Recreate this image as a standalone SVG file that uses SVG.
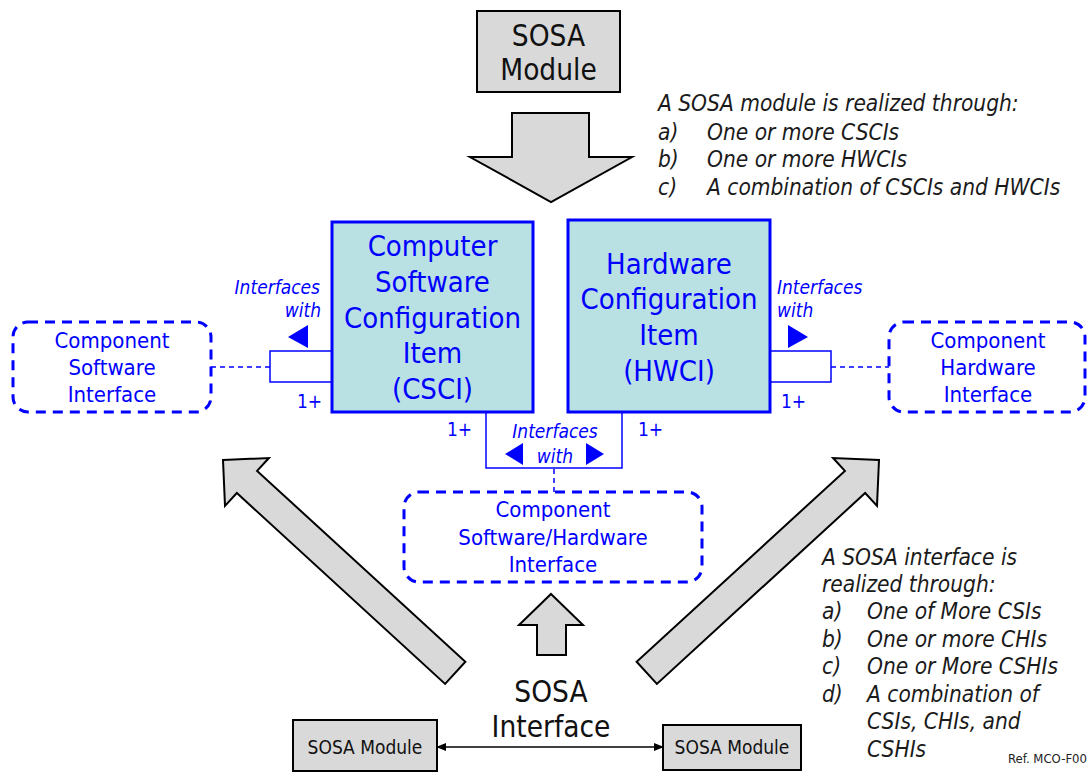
<svg xmlns="http://www.w3.org/2000/svg" width="1087" height="772" viewBox="0 0 1087 772">
  <style>
    text { font-family: "DejaVu Sans Condensed", "DejaVu Sans", sans-serif; font-stretch: condensed; }
    .gray { fill: #d9d9d9; stroke: #000; stroke-width: 2; }
    .ci { fill: #b9e0e3; stroke: #0000ff; stroke-width: 3; }
    .ci-t { font-size: 29px; fill: #0000ff; text-anchor: middle; }
    .mod-t { font-size: 29.5px; fill: #111; text-anchor: middle; }
    .note { font-size: 22.5px; font-style: italic; fill: #1a1a1a; }
    .iface { fill: #fff; stroke: #0000ff; stroke-width: 3; stroke-dasharray: 10 7; }
    .iface-t { font-size: 22px; fill: #0000ff; text-anchor: middle; }
    .lbl { font-size: 19px; font-style: italic; fill: #0000ff; }
    .mult { font-size: 19px; fill: #0000ff; }
    .stub { fill: #fff; stroke: #0000ff; stroke-width: 1.5; }
    .link { fill: none; stroke: #0000ff; stroke-width: 1.5; }
    .dash { fill: none; stroke: #0000ff; stroke-width: 1.5; stroke-dasharray: 5 4; }
    .tri { fill: #0000ff; }
    .small { font-size: 19px; fill: #111; text-anchor: middle; }
  </style>
  <defs>
    <marker id="ah" viewBox="0 0 10 10" refX="9" refY="5" markerWidth="7" markerHeight="7" orient="auto-start-reverse">
      <path d="M0,1 L10,5 L0,9 Z" fill="#000"/>
    </marker>
    <!-- block arrow pointing up, tip at origin -->
    <polygon id="bigArrow" points="0,0 32.5,32.5 15,32.5 15,315 -15,315 -15,32.5 -32.5,32.5"/>
  </defs>

  <!-- top SOSA module -->
  <g id="sosa-module-top">
    <rect class="gray" x="477" y="11" width="143" height="81"/>
    <text class="mod-t" x="548.5" y="46">SOSA</text>
    <text class="mod-t" x="548.5" y="80">Module</text>
  </g>

  <g id="arrow-down">
    <polygon class="gray" points="512,113 589,113 589,157 632,157 551,202 470,157 512,157"/>
  </g>

  <g id="note-module">
    <text class="note" x="658" y="111">A SOSA module is realized through:</text>
    <text class="note" x="658" y="140">a)</text><text class="note" x="707" y="140">One or more CSCIs</text>
    <text class="note" x="658" y="167">b)</text><text class="note" x="707" y="167">One or more HWCIs</text>
    <text class="note" x="658" y="195">c)</text><text class="note" x="707" y="195">A combination of CSCIs and HWCIs</text>
  </g>

  <!-- connectors -->
  <g id="connectors">
    <line class="dash" x1="211" y1="367" x2="270" y2="367"/>
    <line class="dash" x1="831" y1="367" x2="889" y2="367"/>
    <polyline class="link" points="486,412 486,468 622,468 622,412"/>
    <line class="dash" x1="554" y1="469" x2="554" y2="492" stroke-dasharray="4 3"/>
    <line x1="437" y1="747" x2="663" y2="747" stroke="#000" stroke-width="1.5" marker-start="url(#ah)" marker-end="url(#ah)"/>
  </g>

  <!-- CSCI -->
  <g id="csci">
    <rect class="stub" x="270" y="351" width="62" height="31"/>
    <rect class="ci" x="332" y="222" width="201" height="190"/>
    <text class="ci-t" x="432.5" y="256">Computer</text>
    <text class="ci-t" x="432.5" y="292">Software</text>
    <text class="ci-t" x="432.5" y="328">Configuration</text>
    <text class="ci-t" x="432.5" y="363">Item</text>
    <text class="ci-t" x="432.5" y="399">(CSCI)</text>
    <text class="lbl" x="320" y="294" text-anchor="end">Interfaces</text>
    <text class="lbl" x="321" y="317" text-anchor="end">with</text>
    <polygon class="tri" points="288,337 308,325 308,348"/>
    <text class="mult" x="297" y="408">1+</text>
    <text class="mult" x="447" y="436">1+</text>
  </g>

  <!-- HWCI -->
  <g id="hwci">
    <rect class="stub" x="770" y="351" width="61" height="31"/>
    <rect class="ci" x="568" y="220" width="202" height="192"/>
    <text class="ci-t" x="669" y="274">Hardware</text>
    <text class="ci-t" x="669" y="309">Configuration</text>
    <text class="ci-t" x="669" y="345">Item</text>
    <text class="ci-t" x="669" y="381">(HWCI)</text>
    <text class="lbl" x="777" y="294">Interfaces</text>
    <text class="lbl" x="777" y="317">with</text>
    <polygon class="tri" points="808,337 788,325 788,348"/>
    <text class="mult" x="781" y="408">1+</text>
    <text class="mult" x="638" y="436">1+</text>
  </g>

  <!-- CSCI/HWCI shared interface label -->
  <g id="shared-interface-label">
    <text class="lbl" x="555" y="438" text-anchor="middle">Interfaces</text>
    <text class="lbl" x="555" y="463" text-anchor="middle">with</text>
    <polygon class="tri" points="505,454 523,443 523,465"/>
    <polygon class="tri" points="604,454 586,443 586,465"/>
  </g>

  <!-- component interfaces -->
  <g id="component-software-interface">
    <rect class="iface" x="13" y="322" width="198" height="90" rx="15"/>
    <text class="iface-t" x="112" y="348">Component</text>
    <text class="iface-t" x="112" y="375">Software</text>
    <text class="iface-t" x="112" y="402">Interface</text>
  </g>

  <g id="component-hardware-interface">
    <rect class="iface" x="889" y="322" width="196" height="90" rx="15"/>
    <text class="iface-t" x="988" y="348">Component</text>
    <text class="iface-t" x="988" y="375">Hardware</text>
    <text class="iface-t" x="988" y="402">Interface</text>
  </g>

  <g id="component-sw-hw-interface">
    <rect class="iface" x="404" y="492" width="298" height="90" rx="15"/>
    <text class="iface-t" x="553" y="517">Component</text>
    <text class="iface-t" x="553" y="545">Software/Hardware</text>
    <text class="iface-t" x="553" y="572">Interface</text>
  </g>

  <!-- realization arrows -->
  <g id="arrows-up">
    <use href="#bigArrow" class="gray" transform="translate(223,460) rotate(-47.5)"/>
    <use href="#bigArrow" class="gray" transform="translate(879,460) rotate(47.5)"/>
    <polygon class="gray" points="551,594 583,625 566,625 566,655 537,655 537,625 519,625"/>
  </g>

  <g id="sosa-interface">
    <text class="mod-t" x="551" y="702">SOSA</text>
    <text class="mod-t" x="551" y="737">Interface</text>
  </g>

  <g id="sosa-module-left">
    <rect class="gray" x="293" y="720" width="144" height="51"/>
    <text class="small" x="365" y="754">SOSA Module</text>
  </g>

  <g id="sosa-module-right">
    <rect class="gray" x="663" y="725" width="138" height="45"/>
    <text class="small" x="732" y="754">SOSA Module</text>
  </g>

  <g id="note-interface">
    <text class="note" x="822" y="565">A SOSA interface is</text>
    <text class="note" x="822" y="592">realized through:</text>
    <text class="note" x="822" y="619">a)</text><text class="note" x="867" y="619">One of More CSIs</text>
    <text class="note" x="822" y="647">b)</text><text class="note" x="867" y="647">One or more CHIs</text>
    <text class="note" x="822" y="674">c)</text><text class="note" x="867" y="674">One or More CSHIs</text>
    <text class="note" x="822" y="702">d)</text><text class="note" x="867" y="702">A combination of</text>
    <text class="note" x="867" y="729">CSIs, CHIs, and</text>
    <text class="note" x="867" y="757">CSHIs</text>
    <text x="1008" y="763" font-size="13" fill="#222">Ref. MCO-F00</text>
  </g>
</svg>
